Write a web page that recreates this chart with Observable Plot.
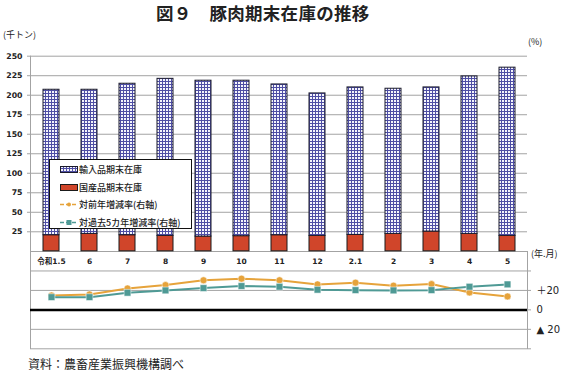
<!DOCTYPE html>
<html>
<head>
<meta charset="utf-8">
<script src="https://cdn.jsdelivr.net/npm/d3@7"></script>
<script src="https://cdn.jsdelivr.net/npm/@observablehq/plot@0.6"></script>
<style>
  html, body { margin: 0; padding: 0; background: #fff; }
  #root { position: relative; width: 561px; height: 375px; background: #fff; overflow: hidden;
          font-family: "Noto Sans CJK JP", "DejaVu Sans", sans-serif; color: #222; }
  .abs { position: absolute; white-space: nowrap; }
  #legend { position: absolute; left: 49px; top: 159px; width: 143px; height: 70px; background: #fff;
            border: 1px solid #111; box-sizing: border-box; padding-top: 1px; }
  .item { display: flex; align-items: center; height: 17.5px; font-size: 9px; font-weight: 500; }
  .item svg { margin-left: 10px; margin-right: 1px; }
</style>
</head>
<body>
<svg width="0" height="0" style="position:absolute">
  <defs>
    <pattern id="grid" width="3" height="3" patternUnits="userSpaceOnUse">
      <rect width="3" height="3" fill="#f4f4fb"/>
      <path d="M0 0.5H3M0.5 0V3" stroke="#4e4ea4" stroke-width="1"/>
    </pattern>
  </defs>
</svg>
<div id="root">
  <div class="abs" style="left:156px;top:0px;font-size:17.5px;font-weight:700;letter-spacing:0.3px;">図９　豚肉期末在庫の推移</div>
  <div class="abs" style="left:3px;top:28px;font-size:9px;">(千トン)</div>
  <div class="abs" style="left:528px;top:35px;font-size:9px;">(%)</div>
  <div class="abs" style="left:531px;top:247px;font-size:9px;">(年.月)</div>
  <div id="bottomPanel" class="abs" style="left:0;top:0"></div>
  <div id="topPanel" class="abs" style="left:0;top:0"></div>
  <div id="legend"></div>
  <div class="abs" style="left:28px;top:355px;font-size:12px;">資料：農畜産業振興機構調べ</div>
</div>
<script>
// ---- data ----
const categories = ["令和1.5", "6", "7", "8", "9", "10", "11", "12", "2.1", "2", "3", "4", "5"];
const domestic = [20.6, 22.3, 20.6, 19.7, 18.9, 19.4, 20.6, 19.7, 21.0, 22.3, 25.3, 22.3, 19.7];
const imports  = [186.4, 184.7, 194.1, 201.3, 199.7, 199.2, 193.2, 182.6, 189.0, 186.0, 184.7, 201.8, 215.6];
const yoyChange = [14.8, 15.9, 22.0, 25.5, 30.4, 32.1, 30.4, 26.2, 28.0, 24.9, 26.5, 17.9, 13.8];
const fiveYearChange = [13.1, 13.1, 17.6, 20.0, 22.4, 24.5, 23.8, 20.7, 20.3, 20.0, 20.3, 23.8, 26.2];
const leftTicks = [25, 50, 75, 100, 125, 150, 175, 200, 225, 250];
const rightTicks = [40, 20, 0, -20, -40];
const rightLabels = {"20": "＋20", "0": "0", "-20": "▲ 20"};
const legendLabels = ["輸入品期末在庫", "国産品期末在庫", "対前年増減率(右軸)", "対過去5カ年増減率(右軸)"];

const RED = "#d0452a", ORANGE = "#e6a33b", TEAL = "#4f9a95", GRID = "#a3a3a3";
const numFont = "'DejaVu Sans', 'Noto Sans CJK JP', sans-serif";

const rows = categories.map((c, i) => ({
  cat: c, dom: domestic[i], imp: imports[i], total: domestic[i] + imports[i],
  yoy: yoyChange[i], five: fiveYearChange[i]
}));

// ---- top panel: stacked bars ----
const topChart = Plot.plot({
  width: 561, height: 375,
  marginLeft: 30, marginRight: 34, marginTop: 55.7, marginBottom: 124.2,
  style: {background: "transparent", overflow: "visible", fontFamily: numFont},
  x: {domain: categories, paddingInner: 0.58, paddingOuter: 0.29, label: null},
  y: {domain: [0, 250], label: null},
  marks: [
    Plot.ruleY(leftTicks, {stroke: GRID, strokeWidth: 1}),
    Plot.frame({anchor: "left", stroke: GRID}),
    Plot.barY(rows, {x: "cat", y1: 0, y2: "dom", fill: RED, stroke: "#1a1a1a", strokeWidth: 1}),
    Plot.barY(rows, {x: "cat", y1: "dom", y2: "total", fill: "url(#grid)", stroke: "#1a1a2a", strokeWidth: 1}),
    Plot.axisY(leftTicks, {anchor: "left", tickSize: 3, tickPadding: 5, stroke: GRID, fill: "#222",
      fontSize: 7.8, fontWeight: "bold", label: null}),
    Plot.axisX({anchor: "bottom", tickSize: 0, tickPadding: 7, fontSize: 7.5, fontWeight: "bold",
      fill: "#222", label: null})
  ]
});
document.getElementById("topPanel").append(topChart);

// ---- bottom panel: rate lines ----
const bottomChart = Plot.plot({
  width: 561, height: 375,
  marginLeft: 30, marginRight: 34, marginTop: 251, marginBottom: 26.7,
  style: {background: "transparent", overflow: "visible", fontFamily: numFont},
  x: {type: "point", domain: categories, padding: 0.5, axis: null},
  y: {domain: [-40, 60], axis: null},
  marks: [
    Plot.ruleY([40, 20, -20], {stroke: GRID, strokeWidth: 1}),
    Plot.frame({stroke: GRID}),
    Plot.ruleY([0], {stroke: "#000", strokeWidth: 2.5}),
    Plot.axisY(rightTicks, {anchor: "right", tickSize: 3, tickPadding: 6, stroke: GRID, fill: "#222",
      fontSize: 10, tickFormat: d => rightLabels[String(d)] ?? "", label: null}),
    Plot.line(rows, {x: "cat", y: "yoy", stroke: ORANGE, strokeWidth: 2}),
    Plot.dot(rows, {x: "cat", y: "yoy", r: 3.5, fill: ORANGE, stroke: "#fff", strokeWidth: 0.5}),
    Plot.line(rows, {x: "cat", y: "five", stroke: TEAL, strokeWidth: 2}),
    Plot.dot(rows, {x: "cat", y: "five", r: 3.8, symbol: "square", fill: TEAL, stroke: "#fff", strokeWidth: 0.5})
  ]
});
document.getElementById("bottomPanel").append(bottomChart);

// ---- legend ----
const legend = document.getElementById("legend");
const swatches = [
  `<rect x="0.5" y="1.5" width="17" height="6" fill="url(#grid)" stroke="#1a1a2a"/>`,
  `<rect x="0.5" y="1.5" width="17" height="6" fill="${RED}" stroke="#1a1a1a"/>`,
  `<line x1="0" y1="4.5" x2="18" y2="4.5" stroke="${ORANGE}" stroke-width="1.5" stroke-dasharray="4,2"/><circle cx="9" cy="4.5" r="2" fill="${ORANGE}"/>`,
  `<line x1="0" y1="4.5" x2="18" y2="4.5" stroke="${TEAL}" stroke-width="1.5" stroke-dasharray="4,2"/><rect x="6.5" y="2" width="5" height="5" fill="${TEAL}"/>`
];
legendLabels.forEach((lab, i) => {
  const div = document.createElement("div");
  div.className = "item";
  div.innerHTML = `<svg width="18" height="9">${swatches[i]}</svg><span>${lab}</span>`;
  legend.append(div);
});
</script>
</body>
</html>
